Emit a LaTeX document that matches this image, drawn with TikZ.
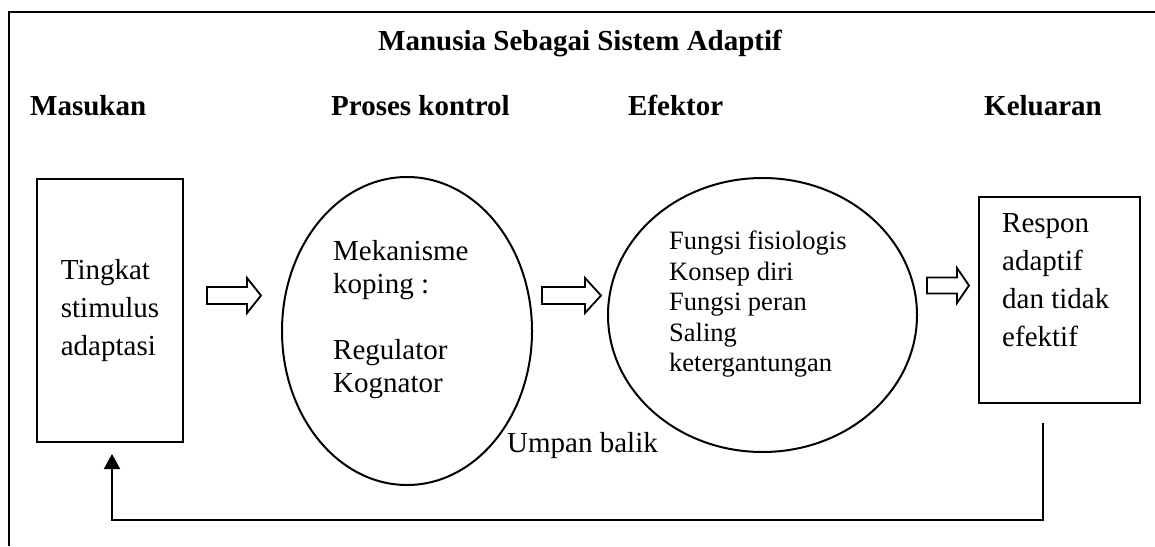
\documentclass[tikz,border=0pt]{standalone}
\usepackage{fontspec}
\setmainfont{Liberation Serif}
\usetikzlibrary{shapes.geometric,arrows.meta}
\begin{document}
\begin{tikzpicture}[x=1pt,y=-1pt,
  line/.style={line width=2pt,line join=miter},
  head/.style={font=\fontsize{29}{34}\selectfont\bfseries,anchor=base west,inner sep=0},
  boxtext/.style={font=\fontsize{29}{38}\selectfont,align=left,inner sep=0},
  pics/blk/.style n args={3}{code={
    \draw[line width=1.8pt,line join=miter] (0,-#3/2) -- (#1-#2,-#3/2) -- (#1-#2,-17.5) -- (#1,0) -- (#1-#2,17.5) -- (#1-#2,#3/2) -- (0,#3/2) -- cycle;}}
]
\useasboundingbox (0,0) rectangle (1155,546);
% frame
\coordinate (fbl) at (9,546);
\coordinate (ftl) at (9,12);
\coordinate (ftr) at (1155,12);
\draw[line] (fbl) -- (ftl) -- (ftr);
% headings
\node[head] (title) at (378,50) {Manusia Sebagai Sistem Adaptif};
\node[head] (h1) at (30,115) {Masukan};
\node[head] (h2) at (331,115) {Proses kontrol};
\node[head] (h3) at (628,115) {Efektor};
\node[head] (h4) at (984,115) {Keluaran};
% boxes and ellipses
\node[draw,line,minimum width=146,minimum height=263,boxtext] (in) at (110,310.5) {Tingkat\\stimulus\\adaptasi};
\node[draw,line,ellipse,minimum width=250,minimum height=308,inner sep=0] (e1) at (407,331) {};
\node[draw,line,ellipse,minimum width=309,minimum height=274,inner sep=0] (e2) at (762.5,315) {};
\node[draw,line,minimum width=161,minimum height=206,inner sep=0] (out) at (1059.5,300) {};
% texts
\node[font=\fontsize{29}{33}\selectfont,align=left,inner sep=0,anchor=north west] (t1) at (333,240) {Mekanisme\\koping :\\[33pt]Regulator\\Kognator};
\node[font=\fontsize{26.5}{30.5}\selectfont,align=left,inner sep=0,anchor=north west] (t2) at (669,231) {Fungsi fisiologis\\Konsep diri\\Fungsi peran\\Saling\\ketergantungan};
\node[boxtext,anchor=north west] (t3) at (1002,213) {Respon\\adaptif\\dan tidak\\efektif};
\node[font=\fontsize{29}{34}\selectfont,anchor=base west,inner sep=0] (fb) at (507,452) {Umpan balik};
% block arrows
\pic at (207,295.5) {blk={54}{14}{17}};
\pic at (542,295.5) {blk={59}{16}{17}};
\pic at (927,285.5) {blk={42}{12}{16}};
% feedback
\coordinate (fs) at (1043,423);
\coordinate (fc1) at (1043,520);
\coordinate (fc2) at (112,520);
\coordinate (fe) at (112,454);
\draw[line,-{Triangle[length=15pt,width=16pt]}] (fs) -- (fc1) -- (fc2) -- (fe);
\end{tikzpicture}
\end{document}
